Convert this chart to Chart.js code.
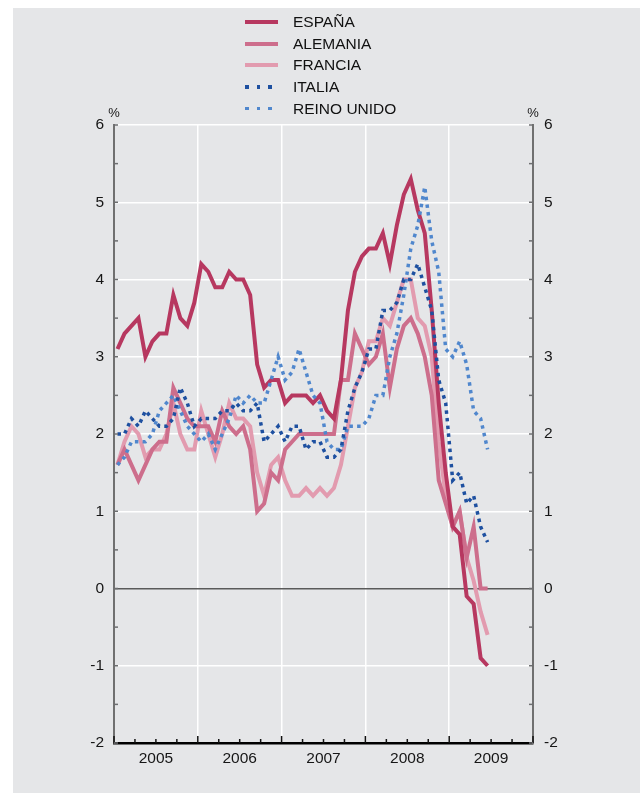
<!DOCTYPE html>
<html><head><meta charset="utf-8">
<script src="https://cdn.jsdelivr.net/npm/chart.js@4.4.1/dist/chart.umd.min.js"></script>
<style>
html,body{margin:0;padding:0;background:#fff;}
#wrap{position:relative;width:640px;height:793px;overflow:hidden;}
#bg{position:absolute;left:13px;top:8px;right:0;bottom:0;background:#e5e6e8;}
#c{position:absolute;left:0;top:0;}
#legend{position:absolute;left:245px;top:11px;font-family:"Liberation Sans",Arial,Helvetica,sans-serif;font-size:15.5px;color:#111;}
.row{height:21.7px;display:flex;align-items:center;white-space:nowrap;}
.sw{width:33px;height:4px;margin-right:15px;}
</style>
</head><body>
<div id="wrap">
<div id="bg"></div>
<canvas id="c" width="640" height="793"></canvas>
<div id="legend"></div>
</div>
<script>
// Years (x-axis tick labels); monthly data Jan 2005 – Jun 2009
const years = ['2005','2006','2007','2008','2009'];
const yTicks = [-2,-1,0,1,2,3,4,5,6];

const espana = [
 3.1,3.3,3.4,3.5,3.0,3.2,3.3,3.3,3.8,3.5,3.4,3.7,
 4.2,4.1,3.9,3.9,4.1,4.0,4.0,3.8,2.9,2.6,2.7,2.7,
 2.4,2.5,2.5,2.5,2.4,2.5,2.3,2.2,2.7,3.6,4.1,4.3,
 4.4,4.4,4.6,4.2,4.7,5.1,5.3,4.9,4.6,3.6,2.4,1.5,
 0.8,0.7,-0.1,-0.2,-0.9,-1.0];
const alemania = [
 1.6,1.8,1.6,1.4,1.6,1.8,1.9,1.9,2.6,2.4,2.2,2.1,
 2.1,2.1,1.9,2.3,2.1,2.0,2.1,1.8,1.0,1.1,1.5,1.4,
 1.8,1.9,2.0,2.0,2.0,2.0,2.0,2.0,2.7,2.7,3.3,3.1,
 2.9,3.0,3.3,2.6,3.1,3.4,3.5,3.3,3.0,2.5,1.4,1.1,
 0.8,1.0,0.4,0.8,0.0,0.0];
const francia = [
 1.6,1.9,2.1,2.0,1.7,1.8,1.8,2.0,2.4,2.0,1.8,1.8,
 2.3,2.0,1.7,2.0,2.4,2.2,2.2,2.1,1.5,1.2,1.6,1.7,
 1.4,1.2,1.2,1.3,1.2,1.3,1.2,1.3,1.6,2.1,2.6,2.8,
 3.2,3.2,3.5,3.4,3.7,4.0,4.0,3.5,3.4,3.0,1.9,1.2,
 0.8,1.0,0.4,0.1,-0.3,-0.6];
const italia = [
 2.0,2.0,2.2,2.1,2.3,2.2,2.1,2.1,2.2,2.6,2.4,2.1,
 2.2,2.2,2.2,2.3,2.3,2.4,2.3,2.3,2.4,1.9,2.0,2.1,
 1.9,2.1,2.1,1.8,1.9,1.9,1.7,1.7,1.8,2.3,2.6,2.8,
 3.1,3.1,3.6,3.6,3.7,4.0,4.0,4.2,3.9,3.6,2.7,2.4,
 1.4,1.5,1.1,1.2,0.8,0.6];
const reinoUnido = [
 1.6,1.7,1.9,1.9,1.9,2.0,2.3,2.4,2.5,2.3,2.1,2.0,
 1.9,2.0,1.8,2.0,2.2,2.5,2.4,2.5,2.4,2.4,2.7,3.0,
 2.7,2.8,3.1,2.8,2.5,2.4,1.9,1.8,1.8,2.1,2.1,2.1,
 2.2,2.5,2.5,3.0,3.3,3.8,4.4,4.7,5.2,4.5,4.1,3.1,
 3.0,3.2,2.9,2.3,2.2,1.8];

const seriesNames = ['ESPAÑA','ALEMANIA','FRANCIA','ITALIA','REINO UNIDO'];
const seriesData = [espana, alemania, francia, italia, reinoUnido];
const seriesColors = ['#b73860','#cd6e8c','#e29baf','#1e50a0','#5087cd'];
const seriesDotted = [false,false,false,true,true];
const seriesOrder = [2,3,4,0,1];

const FONT = '"Liberation Sans", Arial, Helvetica, sans-serif';
const monthsPerYear = 12;

const datasets = seriesData.map((arr,k)=>({
  label: seriesNames[k],
  data: arr.map((v,i)=>({x:i+0.5, y:v})),
  borderColor: seriesColors[k],
  backgroundColor: seriesColors[k],
  borderWidth: seriesDotted[k] ? 3.5 : 4,
  borderDash: seriesDotted[k] ? [3.5,4.2] : [],
  borderCapStyle: 'butt',
  borderJoinStyle: 'miter',
  pointRadius: 0,
  tension: 0,
  fill: false,
  order: seriesOrder[k],
  yAxisID: 'y'
}));

// HTML legend built from the series arrays
const leg = document.getElementById('legend');
seriesNames.forEach((n,k)=>{
  const row = document.createElement('div'); row.className='row';
  const sw = document.createElement('div'); sw.className='sw';
  if (seriesDotted[k]) {
    sw.style.height='3.5px';
    sw.style.background='repeating-linear-gradient(to right,'+seriesColors[k]+' 0 3.6px, transparent 3.6px 11.7px)';
  } else {
    sw.style.background=seriesColors[k];
  }
  const t = document.createElement('span'); t.textContent=n;
  row.appendChild(sw); row.appendChild(t); leg.appendChild(row);
});

const decor = {
  id:'decor',
  afterDraw(chart){
    const {ctx, chartArea:a, scales} = chart;
    const x = scales.x, y = scales.y;
    ctx.save();
    ctx.lineWidth = 1.5;
    ctx.strokeStyle = '#111';
    const total = years.length*monthsPerYear;
    for (let v=0; v<=total; v+=3){
      const px = x.getPixelForValue(v);
      const len = v%monthsPerYear===0 ? 7 : 4;
      ctx.beginPath(); ctx.moveTo(px, a.bottom); ctx.lineTo(px, a.bottom-len); ctx.stroke();
    }
    ctx.strokeStyle = '#6d6e70';
    for (let v=yTicks[0]; v<=yTicks[yTicks.length-1]; v+=0.5){
      const py = y.getPixelForValue(v);
      ctx.beginPath(); ctx.moveTo(a.left, py); ctx.lineTo(a.left+4, py); ctx.stroke();
      ctx.beginPath(); ctx.moveTo(a.right, py); ctx.lineTo(a.right-4, py); ctx.stroke();
    }
    ctx.fillStyle = '#161616';
    ctx.font = '13px '+FONT;
    ctx.textAlign = 'center';
    ctx.textBaseline = 'bottom';
    ctx.fillText('%', a.left, a.top-5);
    ctx.fillText('%', a.right, a.top-5);
    ctx.restore();
  }
};

const tickFont = {family: FONT, size: 15.5};
new Chart(document.getElementById('c'), {
  type:'line',
  data:{datasets},
  plugins:[decor],
  options:{
    responsive:false,
    devicePixelRatio:1,
    animation:false,
    layout:{padding:{top:125,left:0,right:0,bottom:0}},
    plugins:{legend:{display:false}, tooltip:{enabled:false}},
    scales:{
      x:{
        type:'linear', min:0, max:years.length*monthsPerYear,
        afterFit(s){ s.height = 50; },
        ticks:{stepSize:6, autoSkip:false, maxRotation:0, padding:6, font:tickFont, color:'#161616',
          callback:(v)=> (v%12===6) ? years[(v-6)/12] : ''},
        grid:{drawTicks:false, lineWidth:1.5,
          color:(c)=>{ const v=c.tick?c.tick.value:-1; return (v%12===0 && v>0 && v<60)?'#ffffff':'rgba(0,0,0,0)'; }},
        border:{display:true, color:'#000', width:2.5}
      },
      y:{
        position:'left', min:yTicks[0], max:yTicks[yTicks.length-1],
        afterFit(s){ s.width = 114; },
        afterBuildTicks(s){ s.ticks = yTicks.map(v=>({value:v})); },
        ticks:{padding:10, font:tickFont, color:'#161616'},
        grid:{drawTicks:false,
          color:(c)=> (c.tick && c.tick.value===0) ? '#5a5a5a' : '#ffffff',
          lineWidth:1.5},
        border:{display:true, color:'#707070', width:2}
      },
      y2:{
        position:'right', min:yTicks[0], max:yTicks[yTicks.length-1],
        afterFit(s){ s.width = 107; },
        afterBuildTicks(s){ s.ticks = yTicks.map(v=>({value:v})); },
        ticks:{padding:11, font:tickFont, color:'#161616'},
        grid:{display:false, drawTicks:false},
        border:{display:true, color:'#707070', width:2}
      }
    }
  }
});
</script>
</body></html>
